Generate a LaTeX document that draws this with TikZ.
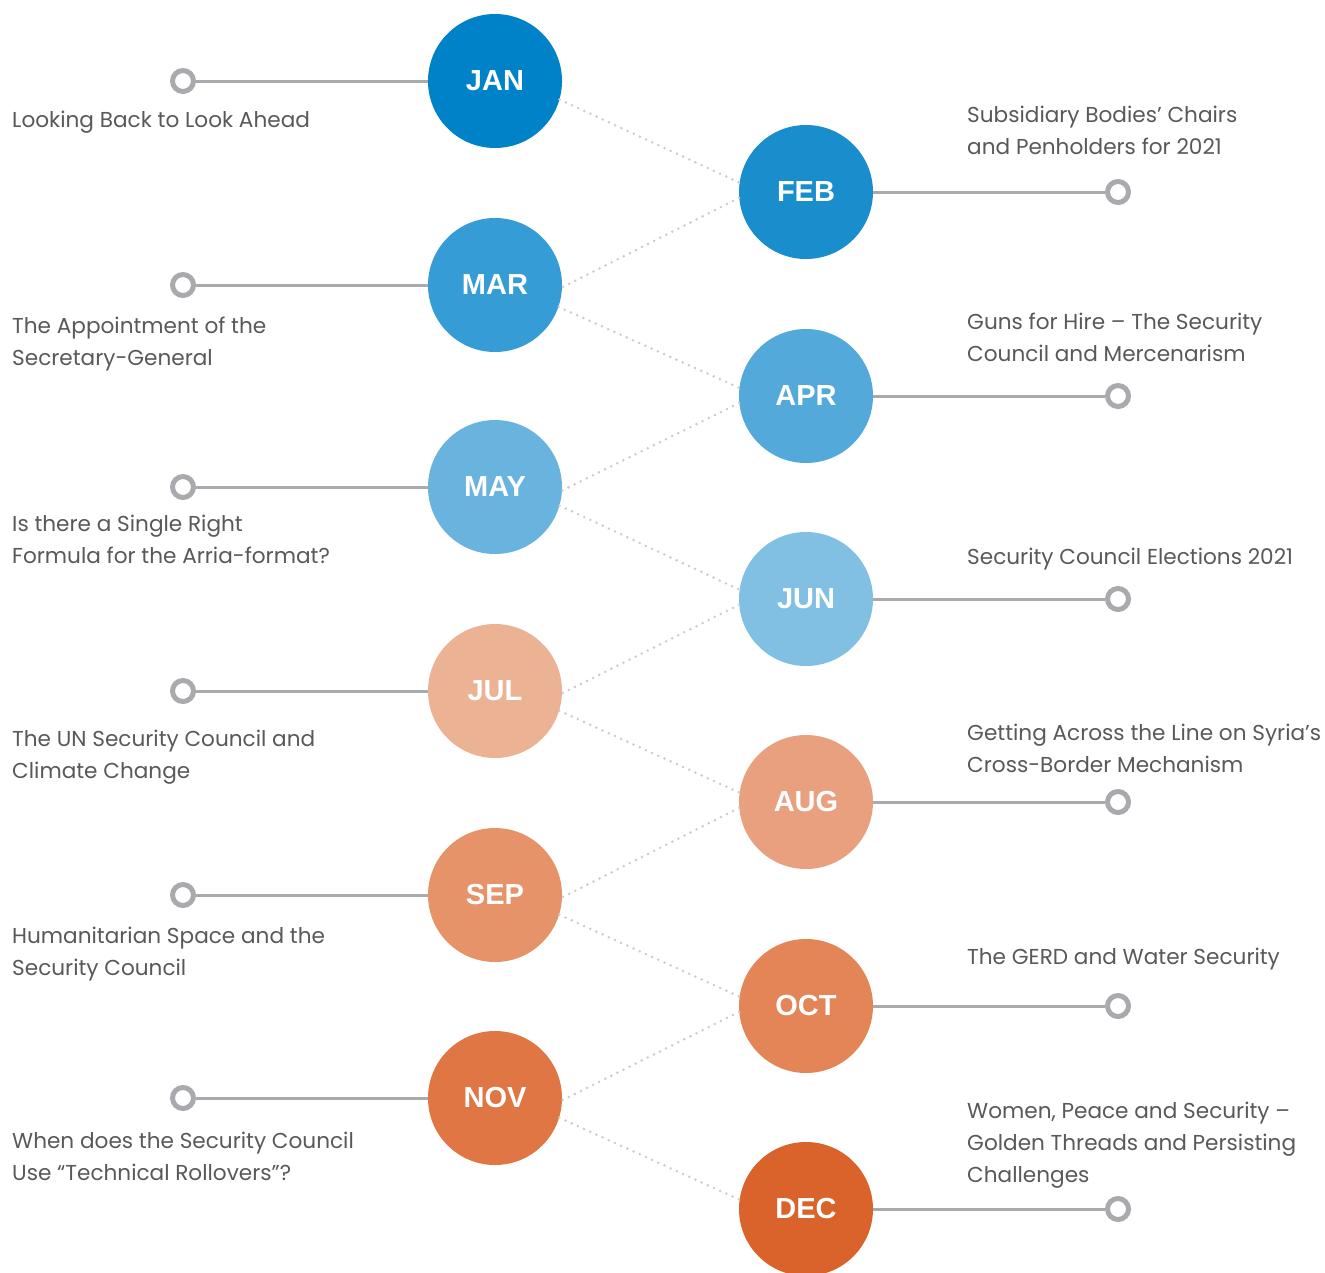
\documentclass[tikz,border=0pt]{standalone}
\usepackage{fontspec}
\setmainfont{Poppins}
\newfontfamily\monthfont{Liberation Sans}
\definecolor{cjan}{HTML}{0082C8}
\definecolor{cfeb}{HTML}{1A8ECD}
\definecolor{cmar}{HTML}{359CD5}
\definecolor{capr}{HTML}{52A9DA}
\definecolor{cmay}{HTML}{68B4DF}
\definecolor{cjun}{HTML}{82C0E3}
\definecolor{cjul}{HTML}{ECB294}
\definecolor{caug}{HTML}{E9A07E}
\definecolor{csep}{HTML}{E6936A}
\definecolor{coct}{HTML}{E38556}
\definecolor{cnov}{HTML}{DF7643}
\definecolor{cdec}{HTML}{DA622B}
\definecolor{txtgray}{HTML}{58595B}
\definecolor{linegray}{HTML}{A9AAAD}
\definecolor{dotgray}{HTML}{CCCCCC}
\tikzset{
  month/.style={circle, minimum size=134pt, inner sep=0pt, text=white,
    font=\monthfont\bfseries\fontsize{29}{32}\selectfont},
  marker/.style={circle, draw=linegray, line width=5pt, minimum size=21pt, inner sep=0pt, fill=white},
  stem/.style={draw=linegray, line width=3pt},
  dotline/.style={draw=dotgray, line width=2.8pt, line cap=round, dash pattern=on 0pt off 6.8pt},
  label/.style={anchor=base west, align=left, inner sep=0pt, text=txtgray,
    font=\fontsize{21.6}{32}\selectfont}
}
\begin{document}
\begin{tikzpicture}[x=1pt,y=-1pt]
\useasboundingbox[fill=white] (0,0) rectangle (1325,1272);
% month circles
\node[month, fill=cjan] (jan) at (495,81) {JAN};
\node[month, fill=cfeb] (feb) at (806,192) {FEB};
\node[month, fill=cmar] (mar) at (495,285) {MAR};
\node[month, fill=capr] (apr) at (806,396) {APR};
\node[month, fill=cmay] (may) at (495,487) {MAY};
\node[month, fill=cjun] (jun) at (806,599) {JUN};
\node[month, fill=cjul] (jul) at (495,691) {JUL};
\node[month, fill=caug] (aug) at (806,802) {AUG};
\node[month, fill=csep] (sep) at (495,895) {SEP};
\node[month, fill=coct] (oct) at (806,1006) {OCT};
\node[month, fill=cnov] (nov) at (495,1098) {NOV};
\node[month, fill=cdec] (dec) at (806,1209) {DEC};
% dotted zigzag
\draw[dotline] (jan.-16) -- (feb.172);
\draw[dotline] (feb.185) -- (mar.-2);
\draw[dotline] (mar.-19) -- (apr.173);
\draw[dotline] (apr.186) -- (may.-3);
\draw[dotline] (may.-16) -- (jun.172);
\draw[dotline] (jun.185) -- (jul.-2);
\draw[dotline] (jul.-17) -- (aug.172);
\draw[dotline] (aug.185) -- (sep.-2);
\draw[dotline] (sep.-17) -- (oct.172);
\draw[dotline] (oct.185) -- (nov.-2);
\draw[dotline] (nov.-17) -- (dec.172);
% markers
\node[marker] (mjan) at (183,81) {};
\node[marker] (mfeb) at (1118,192) {};
\node[marker] (mmar) at (183,285) {};
\node[marker] (mapr) at (1118,396) {};
\node[marker] (mmay) at (183,487) {};
\node[marker] (mjun) at (1118,599) {};
\node[marker] (mjul) at (183,691) {};
\node[marker] (maug) at (1118,802) {};
\node[marker] (msep) at (183,895) {};
\node[marker] (moct) at (1118,1006) {};
\node[marker] (mnov) at (183,1098) {};
\node[marker] (mdec) at (1118,1209) {};
\draw[stem] (mjan) -- (jan);
\draw[stem] (mfeb) -- (feb);
\draw[stem] (mmar) -- (mar);
\draw[stem] (mapr) -- (apr);
\draw[stem] (mmay) -- (may);
\draw[stem] (mjun) -- (jun);
\draw[stem] (mjul) -- (jul);
\draw[stem] (maug) -- (aug);
\draw[stem] (msep) -- (sep);
\draw[stem] (moct) -- (oct);
\draw[stem] (mnov) -- (nov);
\draw[stem] (mdec) -- (dec);
% labels left (y = baseline of last line)
\node[label] (tjan) at (12,127) {Looking Back to Look Ahead};
\node[label] (tmar) at (12,365) {The Appointment of the\\Secretary-General};
\node[label] (tmay) at (12,563) {Is there a Single Right\\Formula for the Arria-format?};
\node[label] (tjul) at (12,778) {The UN Security Council and\\Climate Change};
\node[label] (tsep) at (12,975) {Humanitarian Space and the\\Security Council};
\node[label] (tnov) at (12,1180) {When does the Security Council\\Use “Technical Rollovers”?};
% labels right
\node[label] (tfeb) at (967,154) {Subsidiary Bodies’ Chairs\\and Penholders for 2021};
\node[label] (tapr) at (967,361) {Guns for Hire – The Security\\Council and Mercenarism};
\node[label] (tjun) at (967,564) {Security Council Elections 2021};
\node[label] (taug) at (967,772) {Getting Across the Line on Syria’s\\Cross-Border Mechanism};
\node[label] (toct) at (967,964) {The GERD and Water Security};
\node[label] (tdec) at (967,1182) {Women, Peace and Security –\\Golden Threads and Persisting\\Challenges};
\end{tikzpicture}
\end{document}
